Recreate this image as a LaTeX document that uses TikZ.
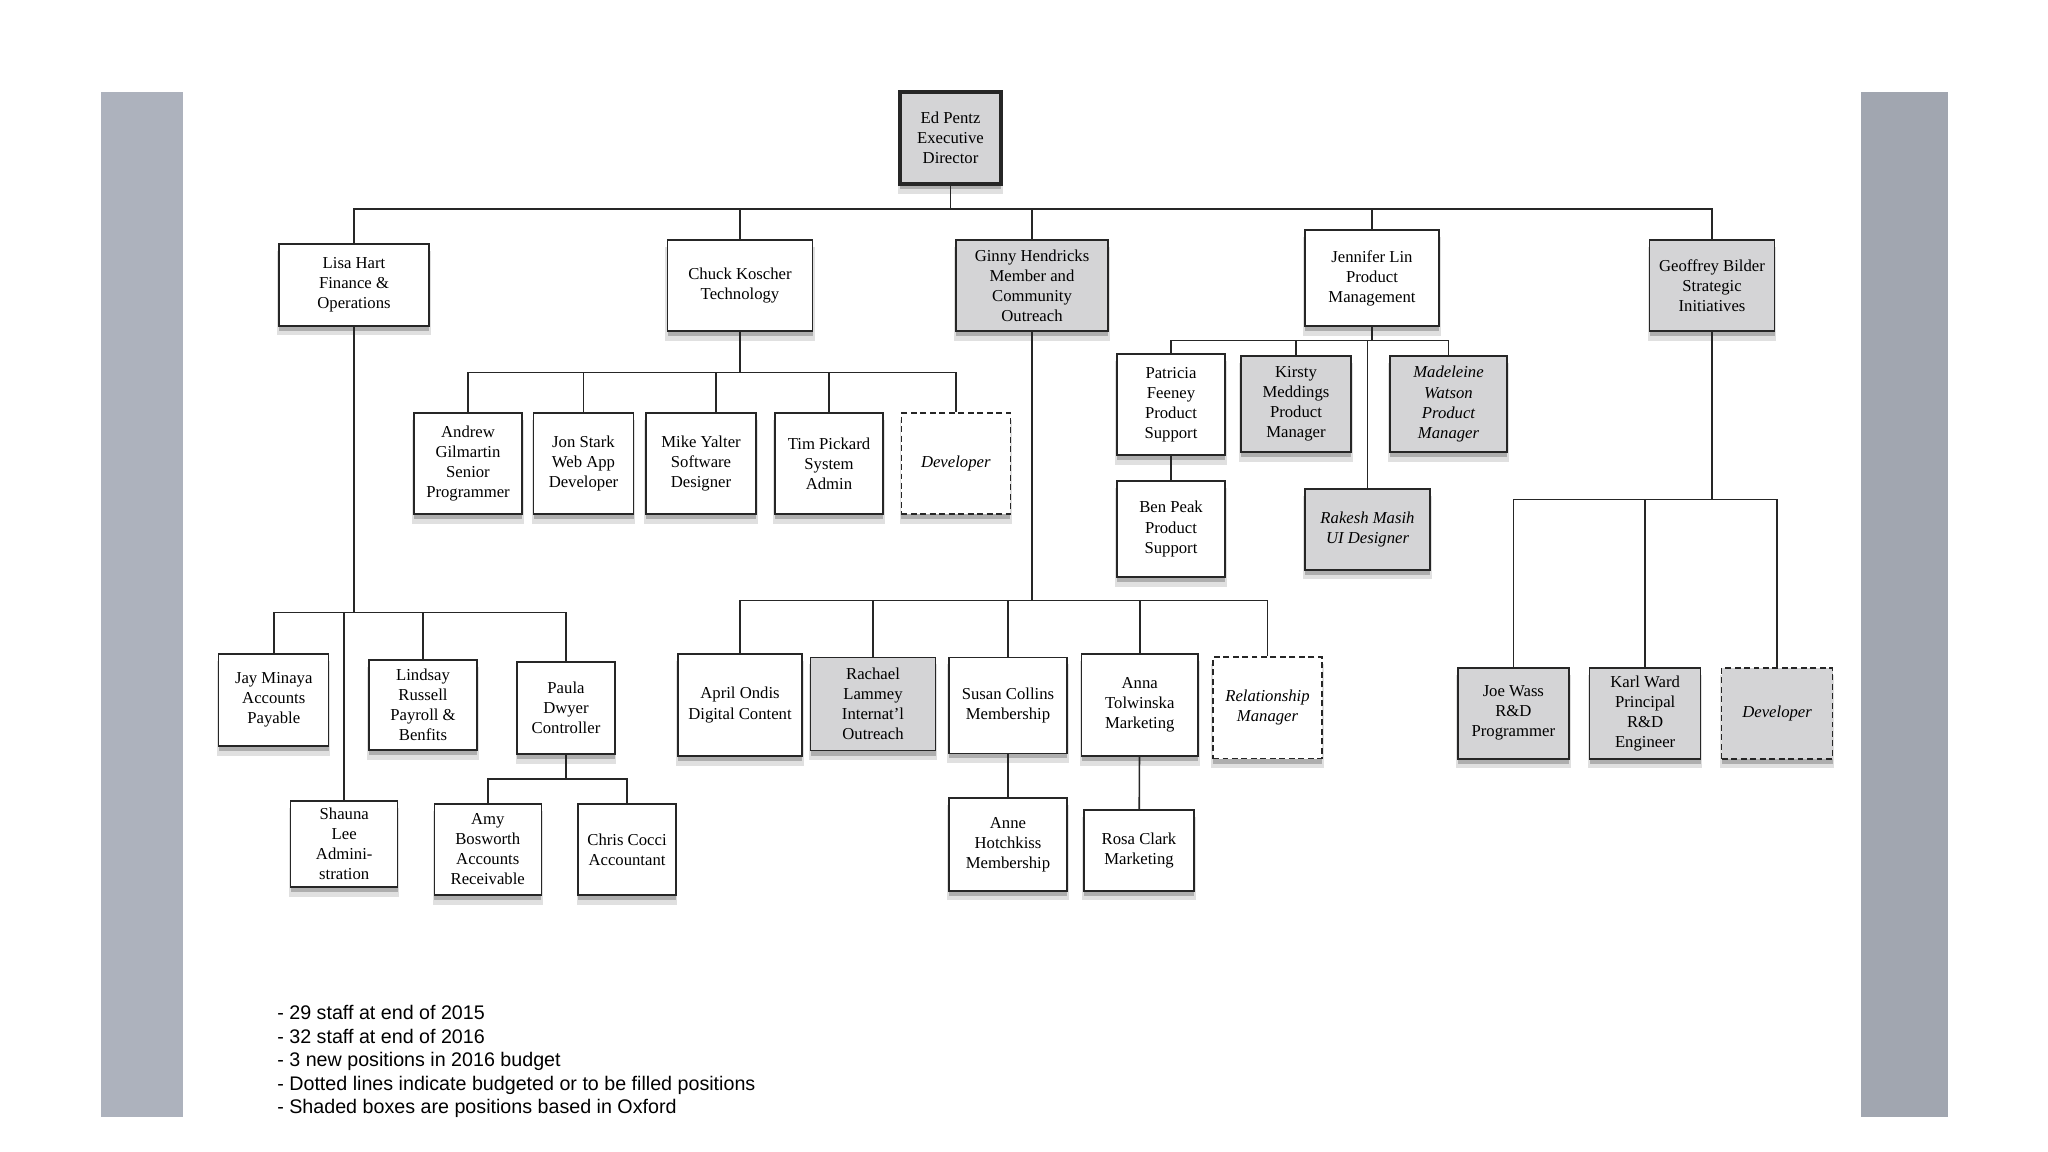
\documentclass[tikz,border=0pt]{standalone}
\usepackage{fontspec}
\setmainfont{Liberation Serif}
\newfontfamily\notefont{Liberation Sans}
\usetikzlibrary{positioning,calc,shadows}

\definecolor{barL}{HTML}{ADB2BD}
\definecolor{barR}{HTML}{A1A6B0}
\definecolor{oxf}{HTML}{D4D4D6}
\definecolor{edge}{HTML}{262626}

\begin{document}
\begin{tikzpicture}[x=0.02cm,y=-0.02cm,
  box/.style={draw=edge,line width=0.8pt,fill=white,align=center,inner sep=1pt,
    font=\fontsize{9.5}{11.4}\selectfont,
    drop shadow={shadow xshift=0pt,shadow yshift=-0.16cm,shadow scale=1.03,opacity=0.12,fill=black},
    drop shadow={shadow xshift=0pt,shadow yshift=-0.1cm,opacity=0.22,fill=black}},
  sz/.style 2 args={minimum width=#1*0.02cm,minimum height=#2*0.02cm},
  oxford/.style={fill=oxf},
  it/.style={font=\fontsize{9.5}{11.4}\selectfont\itshape},
  vacant/.style={dash pattern=on 3.4pt off 2pt,it},
  lead/.style={line width=2pt},
  ln/.style={draw=edge,line width=0.9pt}]
\useasboundingbox (0,0) rectangle (2048,1152);
\fill[white] (0,0) rectangle (2048,1152);
\fill[barL] (101,92) rectangle (183,1117);
\fill[barR] (1861,92) rectangle (1948,1117);

% director and heads
\node[box,lead,oxford,sz={101}{92}] (ed) at (950.5,138) {Ed Pentz\\Executive\\Director};
\node[box,sz={150}{82}] (lisa) at (354,285) {Lisa Hart\\Finance \&\\Operations};
\node[box,sz={145}{91}] (chuck) at (740,285.5) {Chuck Koscher\\Technology};
\node[box,oxford,sz={152}{91}] (ginny) at (1032,285.5) {Ginny Hendricks\\Member and\\Community\\Outreach};
\node[box,sz={134}{96}] (jen) at (1372,278) {Jennifer Lin\\Product\\Management};
\node[box,oxford,sz={125}{91}] (geoff) at (1712,285.5) {Geoffrey Bilder\\Strategic\\Initiatives};

% technology
\node[box,sz={108}{101}] (andrew) at (468,463.5) {Andrew\\Gilmartin\\Senior\\Programmer};
\node[box,sz={100}{101}] (jon) at (583.5,463.5) {Jon Stark\\Web App\\Developer};
\node[box,sz={110}{101}] (mike) at (701,463.5) {Mike Yalter\\Software\\Designer};
\node[box,sz={108}{101}] (tim) at (829,463.5) {Tim Pickard\\System\\Admin};
\node[box,vacant,sz={109}{101}] (techdev) at (955.75,463.5) {Developer};

% product
\node[box,sz={108}{101}] (patricia) at (1171,404.5) {Patricia\\Feeney\\Product\\Support};
\node[box,oxford,sz={110}{96}] (kirsty) at (1296,404) {Kirsty\\Meddings\\Product\\Manager};
\node[box,oxford,it,sz={117}{96}] (madeleine) at (1448.5,404) {Madeleine\\Watson\\Product\\Manager};
\node[box,sz={108}{96}] (ben) at (1171,529) {Ben Peak\\Product\\Support};
\node[box,oxford,it,sz={125}{81}] (rakesh) at (1367.5,529.5) {Rakesh Masih\\UI Designer};

% finance
\node[box,sz={110}{92}] (jay) at (273.75,700) {Jay Minaya\\Accounts\\Payable};
\node[box,sz={108}{90}] (lindsay) at (423,705) {Lindsay\\Russell\\Payroll \&\\Benfits};
\node[box,sz={98}{92}] (paula) at (566,708) {Paula\\Dwyer\\Controller};
\node[box,sz={107}{86}] (shauna) at (344.25,844) {Shauna\\Lee\\Admini-\\stration};
\node[box,sz={107}{91}] (amy) at (487.75,849.5) {Amy\\Bosworth\\Accounts\\Receivable};
\node[box,sz={98}{91}] (chris) at (627,849.5) {Chris Cocci\\Accountant};

% member outreach
\node[box,sz={124}{102}] (april) at (740,705) {April Ondis\\Digital Content};
\node[box,oxford,sz={125}{93}] (rachael) at (873,704) {Rachael\\Lammey\\Internat'l\\Outreach};
\node[box,sz={118}{96}] (susan) at (1008,705.3) {Susan Collins\\Membership};
\node[box,sz={116.5}{102}] (anna) at (1139.75,705) {Anna\\Tolwinska\\Marketing};
\node[box,vacant,sz={109}{101.6}] (relmgr) at (1267.5,707.8) {Relationship\\Manager};
\node[box,sz={118}{93}] (anne) at (1008,844.3) {Anne\\Hotchkiss\\Membership};
\node[box,sz={110}{81}] (rosa) at (1139,850.3) {Rosa Clark\\Marketing};

% strategic
\node[box,oxford,sz={111}{91}] (joe) at (1513.35,713.3) {Joe Wass\\R\&D\\Programmer};
\node[box,oxford,sz={111}{91}] (karl) at (1645.15,713.3) {Karl Ward\\Principal\\R\&D\\Engineer};
\node[box,oxford,vacant,sz={111}{91}] (stratdev) at (1777.1,713.3) {Developer};

% connectors
\foreach \n in {lisa,chuck,ginny,jen,geoff}
  \draw[ln] (ed.south) -- ++(0,23.5) -| (\n.north);
\foreach \n in {andrew,jon,tim,techdev}
  \draw[ln] (chuck.south) -- ++(0,41) -| (\n.north);
\draw[ln] (chuck.south) -- ++(0,41) -| ($(mike.north)+(15,0)$);
\foreach \n in {jay,lindsay,paula,shauna}
  \draw[ln] (lisa.south) -- ++(0,286) -| (\n.north);
\foreach \n in {amy,chris}
  \draw[ln] (paula.south) -- ++(0,24) -| (\n.north);
\foreach \n in {april,rachael,susan,anna,relmgr}
  \draw[ln] (ginny.south) -- ++(0,269) -| (\n.north);
\foreach \n in {patricia,kirsty,madeleine,rakesh}
  \draw[ln] (jen.south) -- ++(0,14) -| (\n.north);
\foreach \n in {joe,karl,stratdev}
  \draw[ln] (geoff.south) -- ++(0,168) -| (\n.north);
\draw[ln] (patricia) -- (ben);
\draw[ln] (susan) -- (anne);
\draw[ln] (anna) -- (rosa);

\node[anchor=north west,align=left,inner sep=0pt,
  font=\notefont\fontsize{11.2}{13.4}\selectfont] (notes) at (277,1005)
  {- 29 staff at end of 2015\\- 32 staff at end of 2016\\- 3 new positions in 2016 budget\\
   - Dotted lines indicate budgeted or to be filled positions\\- Shaded boxes are positions based in Oxford};
\end{tikzpicture}
\end{document}
